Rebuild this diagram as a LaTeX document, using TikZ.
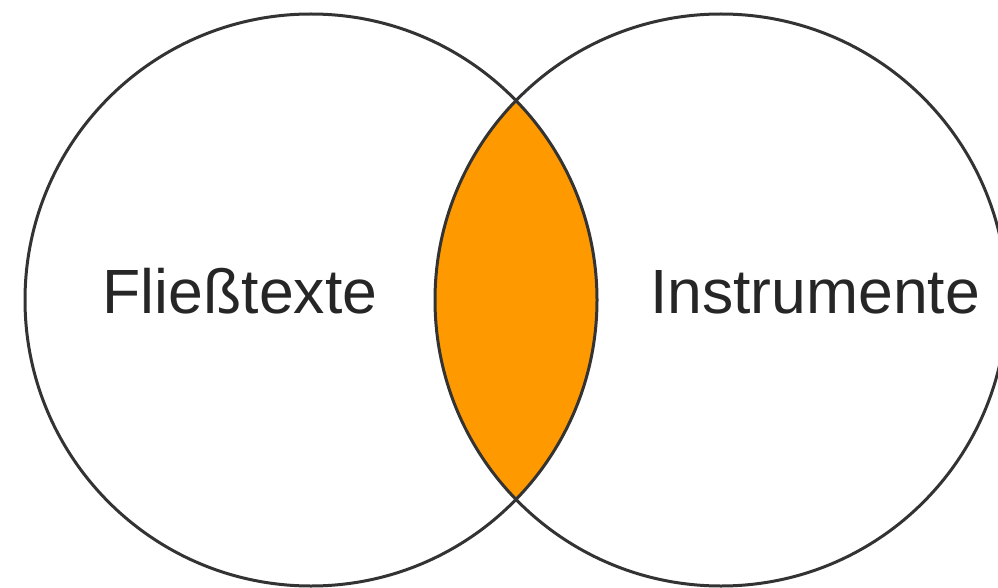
\documentclass[tikz,border=0pt]{standalone}
\usepackage{fontspec}
\setmainfont{Liberation Sans}
\definecolor{lensfill}{HTML}{FF9900}
\definecolor{ringline}{HTML}{333333}
\definecolor{labeltext}{HTML}{262626}
\begin{document}
\begin{tikzpicture}[x=1pt,y=-1pt,
  ring/.style={draw=ringline,line width=3pt},
  setlabel/.style={text=labeltext,font=\fontsize{62.5}{75}\selectfont,anchor=base,inner sep=0pt}]
  \path[use as bounding box] (0,0) rectangle (998,588);
  \coordinate (cl) at (311,300);
  \coordinate (cr) at (721,300);
  % shared region of the two sets
  \begin{scope}
    \clip (cl) circle (286);
    \fill[lensfill] (cr) circle (286);
  \end{scope}
  \draw[ring] (cl) circle (286);
  \draw[ring] (cr) circle (286);
  \node[setlabel] (fliess) at (240,313) {Fließtexte};
  \node[setlabel] (instr) at (815,313) {Instrumente};
\end{tikzpicture}
\end{document}
